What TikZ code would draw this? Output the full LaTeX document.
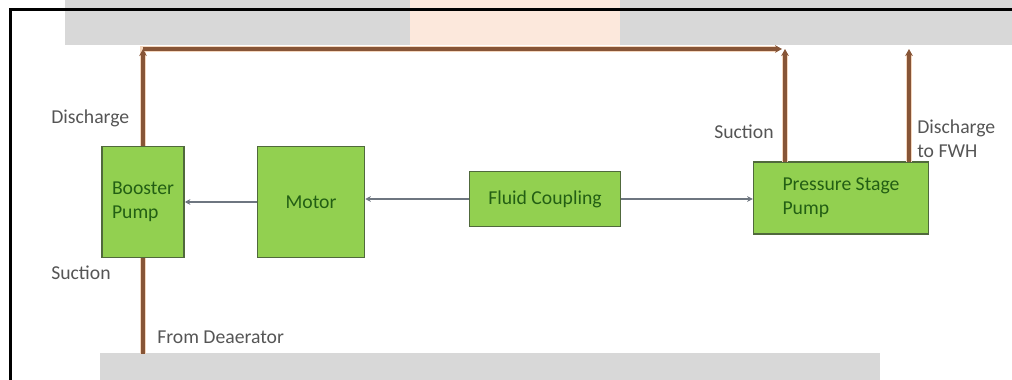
\documentclass[tikz,border=0pt]{standalone}
\usepackage{fontspec}
\setmainfont{Carlito}
\usetikzlibrary{arrows.meta}
\newlength{\du}
\setlength{\du}{0.025cm}
\definecolor{boxgreen}{RGB}{146,208,80}
\definecolor{boxedge}{RGB}{80,105,60}
\definecolor{boxtext}{RGB}{35,95,20}
\definecolor{labeltext}{RGB}{85,85,85}
\definecolor{pipebrown}{RGB}{135,85,55}
\definecolor{pipelight}{RGB}{245,215,190}
\definecolor{shaftgrey}{RGB}{110,118,128}
\definecolor{markgrey}{RGB}{216,216,216}
\definecolor{markorange}{RGB}{252,232,220}
\tikzset{
  pumpbox/.style={draw=boxedge, fill=boxgreen, line width=1.5\du, inner sep=0pt,
    align=left, text=boxtext, font=\fontsize{14}{17}\selectfont},
  sidelabel/.style={anchor=west, inner sep=0pt, align=left, text=labeltext,
    font=\fontsize{14}{17}\selectfont},
  pipeedge/.style={draw=pipelight, line width=6\du},
  pipe/.style={draw=pipebrown, line width=4\du, -{Stealth[length=5pt,width=5.5pt]}},
  shaft/.style={draw=shaftgrey, line width=1.5\du, -{Stealth[length=4pt,width=4pt]}}
}
\begin{document}
\begin{tikzpicture}
\pgftransformyscale{-1}
\useasboundingbox (0\du,0\du) rectangle (1012\du,380\du);
% watermark bands
\fill[markgrey] (65\du,0\du) rectangle (1012\du,45\du);
\fill[markorange] (410\du,0\du) rectangle (620\du,45\du);
\fill[markgrey] (100\du,353\du) rectangle (880\du,380\du);
% frame
\draw[black, line width=3\du] (1012\du,10\du) -- (10\du,10\du) -- (10\du,380\du);

% boxes
\node[pumpbox, minimum width=82\du, minimum height=111\du] (booster) at (143\du,202\du) {Booster\\Pump};
\node[pumpbox, minimum width=107\du, minimum height=111\du] (motor) at (311\du,202\du) {Motor};
\node[pumpbox, minimum width=151\du, minimum height=55\du] (fluid) at (545\du,199\du) {Fluid Coupling};
\node[pumpbox, minimum width=175\du, minimum height=72\du] (psp) at (841\du,198\du) {Pressure Stage\\Pump};

% pipe ends
\coordinate (bdtop) at (143\du,49\du);
\coordinate (topend) at (782\du,49\du);
\coordinate (sucin) at (785\du,162\du);
\coordinate (suctop) at (785\du,49\du);
\coordinate (fwhin) at (909\du,162\du);
\coordinate (fwhtop) at (909\du,49\du);
\coordinate (deaer) at (143\du,354\du);

% pipes
\draw[pipeedge] (booster.north) -- (bdtop) -- ([xshift=-6\du]topend);
\draw[pipeedge] (sucin) -- ([yshift=6\du]suctop);
\draw[pipeedge] (fwhin) -- ([yshift=6\du]fwhtop);
\draw[pipeedge] (booster.south) -- (deaer);
\draw[pipe] (booster.north) -- (bdtop);
\draw[pipe] (bdtop) -- (topend);
\draw[pipe] (sucin) -- (suctop);
\draw[pipe] (fwhin) -- (fwhtop);
\draw[pipebrown, line width=4\du] (booster.south) -- (deaer);

% shafts
\draw[shaft] (motor.west) -- (booster.east);
\draw[shaft] (fluid.west) -- (motor.east |- fluid.west);
\draw[shaft] (fluid.east) -- (psp.west |- fluid.east);

% labels
\node[sidelabel] (dislbl) at (51\du,118\du) {Discharge};
\node[sidelabel] (suclbl) at (51\du,273\du) {Suction};
\node[sidelabel] (deaerlbl) at (157\du,337\du) {From Deaerator};
\node[sidelabel] (psuclbl) at (714\du,132\du) {Suction};
\node[sidelabel] (fwhlbl) at (917\du,139\du) {Discharge\\to FWH};
\end{tikzpicture}
\end{document}
